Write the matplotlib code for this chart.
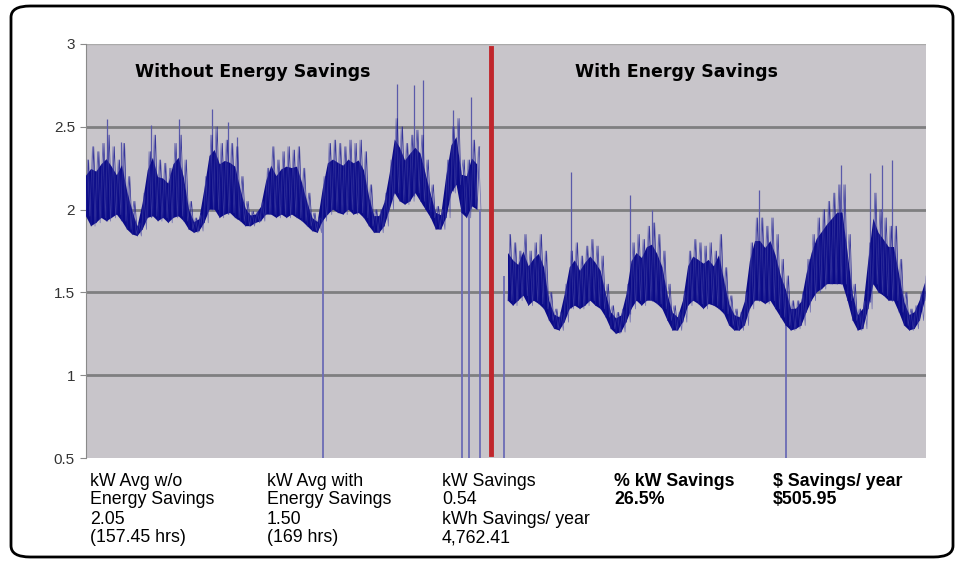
import numpy as np
import matplotlib
matplotlib.use("Agg")
import matplotlib.pyplot as plt
from matplotlib.patches import FancyBboxPatch

plt.rcParams['font.family'] = ['Liberation Sans', 'DejaVu Sans']

nan = np.nan
# kW readings, one band (low / high) every 2 hours
step_hrs = 2
band_lo = [1.96, 1.90, 1.92, 1.95, 1.93, 1.95, 1.97, 1.93, 1.88, 1.85,
           1.84, 1.88, 1.95, 1.96, 1.93, 1.95, 1.92, 1.95, 1.96, 1.93,
           1.88, 1.86, 1.87, 1.92, 2.00, 2.00, 1.95, 1.97, 1.98, 1.95,
           1.93, 1.90, 1.90, 1.92, 1.93, 1.97, 1.97, 1.95, 1.97, 1.95,
           1.97, 1.95, 1.93, 1.90, 1.87, 1.86, 1.93, 1.97, 2.00, 1.98,
           1.97, 2.00, 1.97, 1.98, 1.95, 1.90, 1.86, 1.86, 1.90, 2.00,
           2.10, 2.05, 2.03, 2.05, 2.10, 2.05, 2.00, 1.95, 1.88, 1.88,
           1.95, 2.10, 2.15, 1.98, 1.95, 2.02, 2.00, nan, nan, nan,
           nan, nan, 1.45, 1.42, 1.45, 1.48, 1.42, 1.45, 1.43, 1.40,
           1.33, 1.28, 1.27, 1.32, 1.40, 1.42, 1.40, 1.42, 1.45, 1.42,
           1.40, 1.35, 1.28, 1.25, 1.26, 1.32, 1.40, 1.45, 1.42, 1.45,
           1.45, 1.43, 1.40, 1.33, 1.27, 1.27, 1.32, 1.42, 1.45, 1.43,
           1.40, 1.43, 1.42, 1.40, 1.37, 1.30, 1.27, 1.27, 1.30, 1.40,
           1.45, 1.45, 1.43, 1.45, 1.40, 1.35, 1.30, 1.27, 1.28, 1.30,
           1.38, 1.45, 1.50, 1.52, 1.55, 1.55, 1.55, 1.55, 1.45, 1.33,
           1.27, 1.28, 1.40, 1.55, 1.50, 1.48, 1.45, 1.45, 1.38, 1.30,
           1.27, 1.28, 1.33, 1.45]
band_hi = [2.30, 2.38, 2.35, 2.40, 2.45, 2.38, 2.30, 2.40, 2.20, 2.05,
           1.92, 2.10, 2.35, 2.45, 2.30, 2.28, 2.25, 2.40, 2.45, 2.30,
           2.05, 1.95, 1.97, 2.20, 2.45, 2.50, 2.40, 2.42, 2.40, 2.38,
           2.20, 2.05, 1.99, 1.99, 2.05, 2.25, 2.38, 2.30, 2.35, 2.38,
           2.36, 2.38, 2.25, 2.10, 1.98, 1.95, 2.20, 2.40, 2.42, 2.40,
           2.38, 2.42, 2.40, 2.42, 2.35, 2.15, 2.00, 2.00, 2.10, 2.30,
           2.55, 2.50, 2.40, 2.45, 2.48, 2.45, 2.30, 2.15, 2.02, 2.00,
           2.30, 2.50, 2.55, 2.30, 2.30, 2.42, 2.38, nan, nan, nan,
           nan, nan, 1.85, 1.80, 1.75, 1.85, 1.75, 1.80, 1.85, 1.75,
           1.50, 1.40, 1.38, 1.55, 1.75, 1.80, 1.72, 1.78, 1.82, 1.78,
           1.72, 1.55, 1.42, 1.38, 1.40, 1.55, 1.80, 1.85, 1.82, 1.90,
           1.92, 1.85, 1.75, 1.55, 1.42, 1.38, 1.50, 1.75, 1.82, 1.80,
           1.78, 1.80, 1.75, 1.85, 1.65, 1.48, 1.40, 1.38, 1.50, 1.80,
           1.95, 1.95, 1.90, 1.95, 1.85, 1.70, 1.60, 1.45, 1.45, 1.50,
           1.70, 1.85, 1.95, 2.00, 2.05, 2.10, 2.15, 2.15, 1.85, 1.55,
           1.40, 1.45, 1.80, 2.10, 2.00, 1.95, 1.90, 1.90, 1.70, 1.50,
           1.40, 1.42, 1.50, 1.60]

# isolated peaks (hour, kW)
spike_hrs = [8.2, 13.6, 25.3, 36.1, 49.0, 55.2, 58.7, 120.8, 127.4, 130.9,
             142.6, 149.6, 188.4, 211.3, 219.9, 261.5, 293.3, 304.6, 309.2, 313.1]
spike_kw = [2.55, 2.41, 2.51, 2.55, 2.61, 2.53, 2.44, 2.76, 2.75, 2.78,
            2.60, 2.68, 2.23, 2.09, 2.00, 2.12, 2.27, 2.22, 2.27, 2.30]

# meter dropouts (hour, kW just before the drop)
drop_hrs = [92.1, 146.1, 148.8, 153.1, 162.4, 271.9]
drop_kw = [1.95, 2.20, 2.10, 2.00, 1.60, 1.40]

split_hr = 157.45
total_hrs = 157.45 + 169

titles = ["Without Energy Savings", "With Energy Savings"]
summary = [
    (["kW Avg w/o", "Energy Savings", "2.05", "(157.45 hrs)"], "normal"),
    (["kW Avg with", "Energy Savings", "1.50", "(169 hrs)"], "normal"),
    (["kW Savings", "0.54", "kWh Savings/ year", "4,762.41"], "normal"),
    (["% kW Savings", "26.5%"], "bold"),
    (["$ Savings/ year", "$505.95"], "bold"),
]
col_x = [90, 267, 442, 614, 773]

hrs = np.arange(len(band_lo)) * step_hrs
lo = np.array(band_lo)
hi = np.array(band_hi)

fig = plt.figure(figsize=(9.63, 5.63), dpi=100)
fig.patch.set_facecolor("white")
ax = fig.add_axes([86 / 963, 1 - 458 / 563, 840 / 963, 414 / 563])
ax.set_facecolor("#c8c5ca")

# dark core of the noisy trace, then zig-zag fringe through lows and highs
core_hi = lo + 0.72 * (hi - lo)
ax.fill_between(hrs, lo, core_hi, color="#0b0b88", lw=0, zorder=3)
zx = np.column_stack([hrs, hrs + 1]).ravel()
ax.plot(zx, np.column_stack([lo, hi]).ravel(), color="#1c1c92", lw=0.55,
        alpha=0.85, zorder=3)
ax.plot(zx + 0.5, np.column_stack([hi, lo]).ravel(), color="#4646a6",
        lw=0.5, alpha=0.7, zorder=3)
ax.vlines(spike_hrs, np.interp(spike_hrs, hrs, np.nan_to_num(lo)), spike_kw,
          color="#5a5aaa", lw=0.9, zorder=2)
ax.vlines(drop_hrs, 0.5, drop_kw, color="#6c6cb6", lw=1.3, zorder=2)

ax.axvline(split_hr, ymin=0.01, ymax=0.99, color="#c0262c", lw=3.5, zorder=4)

ax.set_xlim(0, total_hrs)
ax.set_ylim(0.5, 3)
ax.set_yticks([0.5, 1, 1.5, 2, 2.5, 3])
ax.set_yticklabels(["0.5", "1", "1.5", "2", "2.5", "3"])
ax.set_xticks([])
for y in [1, 1.5, 2, 2.5]:
    ax.axhline(y, color="#7f7f80", lw=2, zorder=1)
ax.axhline(3, color="#aaaaaa", lw=1, zorder=1)
for s in ["top", "right", "bottom"]:
    ax.spines[s].set_visible(False)
ax.spines["left"].set_color("#8a8a8a")
ax.tick_params(axis="y", length=4, color="#8a8a8a", labelsize=11,
               labelcolor="#333333", pad=4)

for title, cx in zip(titles, [253, 676]):
    fig.text(cx / 963, 1 - 72 / 563, title, ha="center", va="center",
             fontsize=12.5, fontweight="bold", family=["DejaVu Sans"])

for (lines, weight), x in zip(summary, col_x):
    for i, line in enumerate(lines):
        fig.text(x / 963, 1 - (481 + 19 * i) / 563, line, ha="left",
                 va="center", fontsize=12.8, fontweight=weight)

border = FancyBboxPatch((11 / 963, 6 / 563), 942 / 963, 551 / 563,
                        boxstyle="round,pad=0,rounding_size=0.02",
                        transform=fig.transFigure, fill=False,
                        edgecolor="black", lw=2, zorder=0)
fig.patches.append(border)

fig.savefig("out.png", dpi=100)
